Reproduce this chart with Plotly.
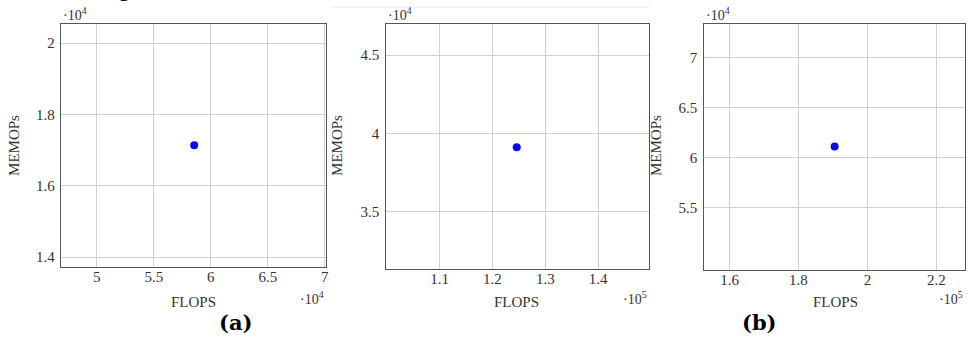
import plotly.graph_objects as go

W, H = 969, 338

# Data (one point per panel)
panel_labels = ["", "(a)", "(b)"]
flops = [58540, 124590, 190500]
memops = [17140, 39110, 61100]
x_ranges = [[46840, 70100], [99750, 149570], [152460, 228400]]
y_ranges = [[13720, 20540], [31340, 46960], [48780, 73290]]
x_ticks = [[50000, 55000, 60000, 65000, 70000],
           [110000, 120000, 130000, 140000],
           [160000, 180000, 200000, 220000]]
x_ticklabels = [["5", "5.5", "6", "6.5", "7"],
                ["1.1", "1.2", "1.3", "1.4"],
                ["1.6", "1.8", "2", "2.2"]]
y_ticks = [[14000, 16000, 18000, 20000],
           [35000, 40000, 45000],
           [55000, 60000, 65000, 70000]]
y_ticklabels = [["1.4", "1.6", "1.8", "2"],
                ["3.5", "4", "4.5"],
                ["5.5", "6", "6.5", "7"]]
x_exponents = ["4", "5", "5"]
y_exponents = ["4", "4", "4"]

# pixel boxes of each plot area: left, right, top, bottom
boxes = [(61, 327, 24, 267), (386.7, 650.7, 24.3, 269), (705.7, 968.3, 24.3, 270)]

FONT = "Liberation Serif"
TXT = "#333333"

fig = go.Figure()
layout = dict(width=W, height=H, margin=dict(l=0, r=0, t=0, b=0),
              paper_bgcolor="white", plot_bgcolor="white", showlegend=False)
annotations = []
shapes = []

def px(x):
    return x / W

def py(y):
    return 1 - y / H

for i in range(3):
    l, r, t, b = boxes[i]
    xa = "xaxis" if i == 0 else f"xaxis{i+1}"
    ya = "yaxis" if i == 0 else f"yaxis{i+1}"
    xr = "x" if i == 0 else f"x{i+1}"
    yr = "y" if i == 0 else f"y{i+1}"
    fig.add_trace(go.Scatter(x=[flops[i]], y=[memops[i]], mode="markers",
                             marker=dict(color="#0a0aee", size=8),
                             xaxis=xr, yaxis=yr))
    layout[xa] = dict(domain=[px(l), px(r)], range=x_ranges[i], anchor=yr,
                      tickvals=x_ticks[i], ticktext=x_ticklabels[i],
                      showgrid=True, gridcolor="#d0d0d0", gridwidth=1,
                      showline=True, linecolor="#555555", linewidth=1.3, mirror=True,
                      ticks="outside", ticklen=0, zeroline=False, ticklabelstandoff=-4,
                      tickfont=dict(family=FONT, size=15, color=TXT))
    layout[ya] = dict(domain=[py(b), py(t)], range=y_ranges[i], anchor=xr,
                      tickvals=y_ticks[i], ticktext=y_ticklabels[i],
                      showgrid=True, gridcolor="#d0d0d0", gridwidth=1,
                      showline=True, linecolor="#555555", linewidth=1.3, mirror=True,
                      ticks="outside", ticklen=0, zeroline=False, ticklabelstandoff=2,
                      tickfont=dict(family=FONT, size=15, color=TXT))
    # exponent at top-left
    annotations.append(dict(x=px(l), y=py(14), xref="paper", yref="paper",
                            xanchor="left", yanchor="middle", showarrow=False,
                            text="\u00b710<sup>" + y_exponents[i] + "</sup>",
                            font=dict(family=FONT, size=14, color=TXT)))
    # exponent at bottom-right
    annotations.append(dict(x=px(r), y=py(298), xref="paper", yref="paper",
                            xanchor="right", yanchor="middle", showarrow=False,
                            text="\u00b710<sup>" + x_exponents[i] + "</sup>",
                            font=dict(family=FONT, size=14, color=TXT)))
    # axis titles
    annotations.append(dict(x=px([194, 518, 838][i]), y=py(302), xref="paper", yref="paper",
                            xanchor="center", yanchor="middle", showarrow=False,
                            text="FLOPS", font=dict(family=FONT, size=15, color=TXT)))
    annotations.append(dict(x=px([14, 338, 658][i]), y=py(145), xref="paper", yref="paper",
                            xanchor="center", yanchor="middle", showarrow=False,
                            textangle=-90,
                            text="MEMOPs", font=dict(family=FONT, size=15, color=TXT)))
    if panel_labels[i]:
        annotations.append(dict(x=px([0, 236, 762][i]), y=py(322), xref="paper", yref="paper",
                                xanchor="center", yanchor="middle", showarrow=False,
                                text="<b>" + panel_labels[i] + "</b>",
                                font=dict(family="DejaVu Serif", size=21, color="black")))

# cropped line of the surrounding paper text (only its lower edge is visible)
annotations.append(dict(x=px(-4), y=py(3), xref="paper", yref="paper",
                        xanchor="left", yanchor="bottom", showarrow=False,
                        text="scribed in Figures 3 and 4.",
                        font=dict(family=FONT, size=24, color="black")))

# faint border of the pasted middle image
shapes.append(dict(type="line", xref="paper", yref="paper",
                   x0=px(332), x1=px(652), y0=py(7), y1=py(7),
                   line=dict(color="#ececec", width=1)))

layout["annotations"] = annotations
layout["shapes"] = shapes
fig.update_layout(**layout)
fig.write_html("out.html")
